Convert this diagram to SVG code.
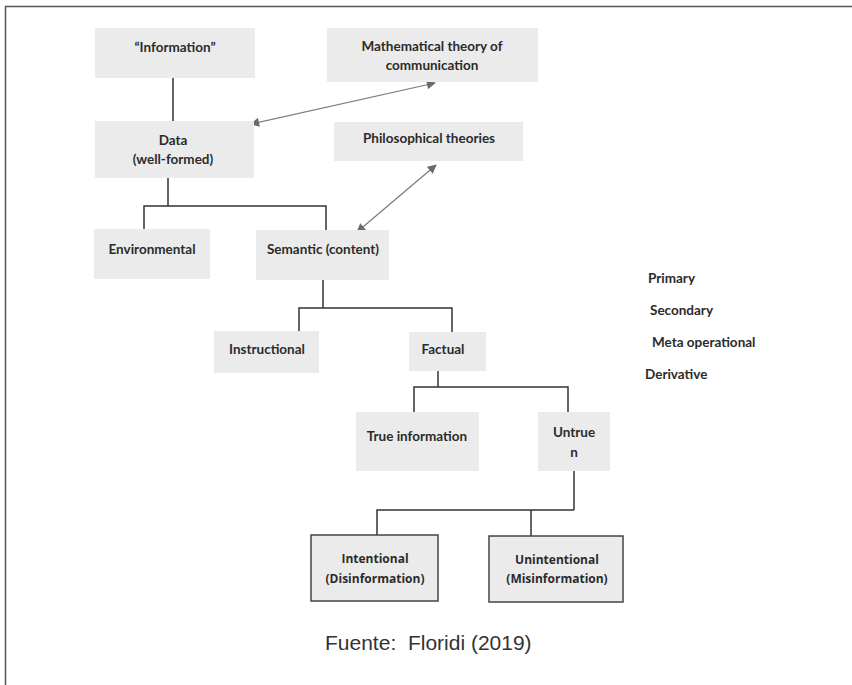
<svg xmlns="http://www.w3.org/2000/svg" width="852" height="685" viewBox="0 0 852 685">
<style>
.box{fill:#ebebeb;}
.sbox{fill:#ebebeb;stroke:#444;stroke-width:1.5;}
.t{font-family:Lato,"Liberation Sans",sans-serif;font-weight:bold;font-size:13.5px;fill:#2b2b2b;text-anchor:middle;dominant-baseline:central;}
.t2{font-family:"Open Sans","Liberation Sans",sans-serif;font-weight:bold;font-size:12px;fill:#2b2b2b;text-anchor:middle;dominant-baseline:central;}
.side{font-family:Lato,"Liberation Sans",sans-serif;font-weight:bold;font-size:13.5px;fill:#2b2b2b;dominant-baseline:central;}
.cap{font-family:"Liberation Sans",Arial,sans-serif;font-size:21px;fill:#333;}
.ln{fill:none;stroke:#333;stroke-width:1.5;}
.ar{fill:none;stroke:#7a7a7a;stroke-width:1.2;marker-start:url(#ah);marker-end:url(#ah);}
.frame{fill:none;stroke:#555;stroke-width:1.5;}
</style>
<defs>
<marker id="ah" viewBox="0 0 10 10" refX="9" refY="5" markerWidth="10" markerHeight="9" markerUnits="userSpaceOnUse" orient="auto-start-reverse">
<path d="M0,0 L10,5 L0,10 z" fill="#6a6a6a"/>
</marker>
</defs>
<rect width="852" height="685" fill="#ffffff"/>
<path class="frame" d="M5.5,685 V6.5 H852"/>

<g id="connectors">
<path class="ln" d="M173,78 V121"/>
<path class="ln" d="M168,178 V206"/>
<path class="ln" d="M144,229 V206 H326 V230"/>
<path class="ln" d="M323,280 V308"/>
<path class="ln" d="M299,331 V308 H452 V332"/>
<path class="ln" d="M438,371 V387"/>
<path class="ln" d="M414,412 V387 H568 V412"/>
<path class="ln" d="M574,471 V510"/>
<path class="ln" d="M377,535 V510 H574"/>
<path class="ln" d="M531,510 V536"/>
<line class="ar" x1="251" y1="124" x2="435" y2="83"/>
<line class="ar" x1="436" y1="165" x2="357" y2="232"/>
</g>

<g id="information">
<rect class="box" x="95" y="28" width="160" height="50"/>
<text class="t" x="175" y="47">“Information”</text>
</g>
<g id="math">
<rect class="box" x="327" y="28" width="211" height="54"/>
<text class="t" x="432" y="46">Mathematical theory of</text>
<text class="t" x="432" y="65">communication</text>
</g>
<g id="data">
<rect class="box" x="95" y="121" width="159" height="57"/>
<text class="t" x="173" y="140">Data</text>
<text class="t" x="173" y="159">(well-formed)</text>
</g>
<g id="philosophical">
<rect class="box" x="334" y="122" width="189" height="39"/>
<text class="t" x="429" y="138">Philosophical theories</text>
</g>
<g id="environmental">
<rect class="box" x="94" y="229" width="116" height="50"/>
<text class="t" x="152" y="249">Environmental</text>
</g>
<g id="semantic">
<rect class="box" x="256" y="230" width="133" height="50"/>
<text class="t" x="323" y="249">Semantic (content)</text>
</g>
<g id="instructional">
<rect class="box" x="214" y="331" width="105" height="42"/>
<text class="t" x="267" y="349">Instructional</text>
</g>
<g id="factual">
<rect class="box" x="409" y="332" width="77" height="39"/>
<text class="t" x="443" y="349">Factual</text>
</g>
<g id="true-information">
<rect class="box" x="356" y="412" width="123" height="59"/>
<text class="t" x="417" y="436">True information</text>
</g>
<g id="untrue">
<rect class="box" x="538" y="412" width="72" height="59"/>
<text class="t" x="574" y="432">Untrue</text>
<text class="t" x="574" y="452">n</text>
</g>
<g id="intentional">
<rect class="sbox" x="311" y="535" width="127" height="66"/>
<text class="t2" x="375" y="558">Intentional</text>
<text class="t2" x="375" y="578">(Disinformation)</text>
</g>
<g id="unintentional">
<rect class="sbox" x="489" y="536" width="134" height="66"/>
<text class="t2" x="557" y="559">Unintentional</text>
<text class="t2" x="557" y="578">(Misinformation)</text>
</g>
<g id="side-labels">
<text class="side" x="648" y="278">Primary</text>
<text class="side" x="650" y="310">Secondary</text>
<text class="side" x="652" y="342">Meta operational</text>
<text class="side" x="645" y="374">Derivative</text>
</g>
<text class="cap" x="325" y="650" xml:space="preserve">Fuente:  Floridi (2019)</text>
</svg>
